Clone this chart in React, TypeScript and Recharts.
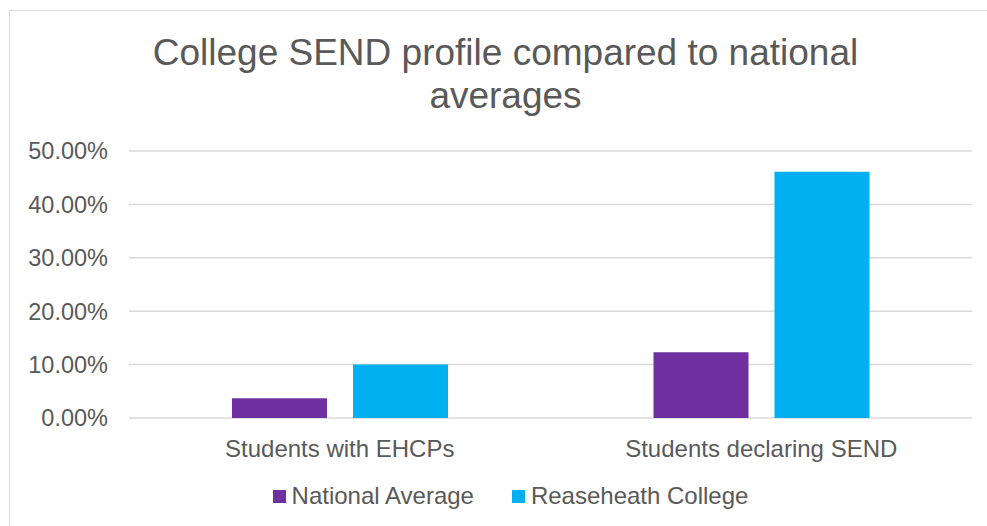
import React from 'react';
import { BarChart, Bar, XAxis, YAxis, CartesianGrid, Legend } from 'recharts';

const categories = ['Students with EHCPs', 'Students declaring SEND'];
const nationalAverage = [3.7, 12.3];
const reaseheathCollege = [10.0, 46.1];
const yTicks = [0, 10, 20, 30, 40, 50];

const PURPLE = '#7030A0';
const BLUE = '#00B0F0';
const TEXT = '#595959';
const GRID = '#d9d9d9';
const FONT = '"Liberation Sans", Arial, Helvetica, sans-serif';

const data = categories.map((name, i) => ({
  name,
  national: nationalAverage[i],
  college: reaseheathCollege[i],
}));

function LegendContent(props: any) {
  const items = props.payload || [];
  return (
    <div style={{ display: 'flex', justifyContent: 'center', alignItems: 'center', paddingLeft: 34 }}>
      {items.map((it: any, i: number) => (
        <div key={i} style={{ display: 'flex', alignItems: 'center', marginRight: i === 0 ? 38 : 0 }}>
          <span style={{ width: 13, height: 13, background: it.color, display: 'inline-block', marginRight: 6 }} />
          <span style={{ fontSize: 24, color: TEXT, fontFamily: FONT, lineHeight: '28px' }}>{it.value}</span>
        </div>
      ))}
    </div>
  );
}

export default function App() {
  return (
    <div style={{ position: 'absolute', left: 0, top: 0, width: 987, height: 526, overflow: 'hidden', background: '#fff', fontFamily: FONT }}>
      <div style={{ position: 'absolute', left: 8.5, top: 10, width: 1100, height: 700, borderTop: `1.5px solid ${GRID}`, borderLeft: `1.5px solid ${GRID}` }} />
      <div style={{ position: 'absolute', left: 0, top: 31, width: 1011, textAlign: 'center', fontSize: 37, lineHeight: '43px', color: TEXT }}>
        College SEND profile compared to national
        <br />
        averages
      </div>
      <div style={{ position: 'absolute', left: 0, top: 0 }}>
        <BarChart
          width={987}
          height={526}
          data={data}
          margin={{ top: 151, right: 15, bottom: 48, left: 0 }}
          barGap={26}
          barSize={95}
        >
          <CartesianGrid vertical={false} stroke={GRID} strokeWidth={1.5} />
          <XAxis
            dataKey="name"
            axisLine={false}
            tickLine={false}
            tickSize={0}
            tickMargin={22}
            tick={{ fontSize: 24, fill: TEXT, fontFamily: FONT }}
            height={60}
          />
          <YAxis
            domain={[0, 50]}
            ticks={yTicks}
            width={129}
            axisLine={false}
            tickLine={false}
            tickSize={0}
            tickMargin={21}
            tickFormatter={(v: number) => v.toFixed(2) + '%'}
            tick={{ fontSize: 23.5, fill: TEXT, fontFamily: FONT }}
          />
          <Legend
            verticalAlign="middle"
            align="center"
            layout="horizontal"
            wrapperStyle={{ top: 482, left: 0, width: 987 }}
            content={<LegendContent />}
          />
          <Bar dataKey="national" name="National Average" fill={PURPLE} isAnimationActive={false} />
          <Bar dataKey="college" name="Reaseheath College" fill={BLUE} isAnimationActive={false} />
        </BarChart>
      </div>
    </div>
  );
}
